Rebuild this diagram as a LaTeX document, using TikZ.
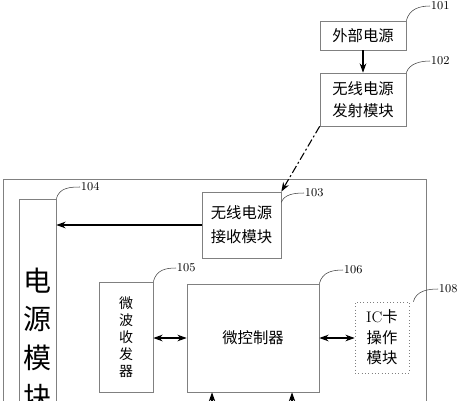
\documentclass[tikz,border=0pt]{standalone}
\usepackage{fontspec}
\newfontfamily\cjk{Noto Sans CJK SC}
\usetikzlibrary{arrows.meta,calc}
\tikzset{
	blk/.style={draw=black!50, line width=0.5pt, inner sep=0pt, align=center,
		font=\cjk\fontsize{11.5}{16.5}\selectfont},
	tag/.style={anchor=west, inner sep=0.5pt, font=\fontsize{9}{10}\selectfont},
	lead/.style={draw=black!75, line width=0.4pt},
	arr/.style={-{Stealth[length=7pt,width=5pt]}, line width=0.8pt},
	dbl/.style={{Stealth[length=7pt,width=5pt]}-{Stealth[length=7pt,width=5pt]}, line width=0.8pt},
}

\begin{document}
\begin{tikzpicture}[x=0.75pt, y=-0.75pt]
	%%%%% START %%%%%
	\useasboundingbox (0,0) rectangle (460,400);
	\clip (0,0) rectangle (460,400);
	
	% outer frame
	\draw[black!50, line width=0.5pt] (3,179) rectangle (426,560);
	
	% blocks
	\node[blk, minimum width=64.5pt, minimum height=21.75pt] (ext) at (363,35.5) {外部电源};
	\node[blk, minimum width=64.5pt, minimum height=39.75pt] (tx) at (363,99.5) {无线电源\\发射模块};
	\node[blk, minimum width=59.25pt, minimum height=49.5pt, font=\cjk\fontsize{11.5}{18}\selectfont] (rx) at (241.5,225) {无线电源\\接收模块};
	\node[blk, minimum width=27.75pt, minimum height=209.25pt, font=\cjk\fontsize{21}{29}\selectfont] (pwr) at (37.5,338.5) {电\\源\\模\\块};
	\node[blk, minimum width=40.5pt, minimum height=82.5pt, font=\cjk\fontsize{10.5}{12.75}\selectfont] (mw) at (126,337) {微\\波\\收\\发\\器};
	\node[blk, minimum width=99pt, minimum height=81pt] (ctrl) at (253,338) {微控制器};
	\node[blk, dotted, minimum width=40.5pt, minimum height=53.25pt, font=\cjk\fontsize{11.5}{15.4}\selectfont] (ic) at (382,337.5) {{\fontspec{Latin Modern Roman}IC}卡\\操作\\模块};
	
	% reference numerals
	\node[tag] (n101) at (430,6) {101};
	\node[tag] (n102) at (430,61) {102};
	\node[tag] (n103) at (304,193) {103};
	\node[tag] (n104) at (80,187) {104};
	\node[tag] (n105) at (176,268) {105};
	\node[tag] (n106) at (343,270) {106};
	\node[tag] (n108) at (438,289) {108};
	
	\draw[lead] (ext.north east) .. controls +(3,-12) and +(-10,0) .. (n101.west);
	\draw[lead] (tx.north east) .. controls +(3,-9) and +(-10,0) .. (n102.west);
	\draw[lead] ([yshift=-8pt]rx.north east) .. controls +(3,-8) and +(-10,0) .. (n103.west);
	\draw[lead] (pwr.north east) .. controls +(3,-11) and +(-10,0) .. (n104.west);
	\draw[lead] (mw.north east) .. controls +(3,-12) and +(-10,0) .. (n105.west);
	\draw[lead] (ctrl.north east) .. controls +(3,-12) and +(-10,0) .. (n106.west);
	\draw[lead] ([xshift=3pt]ic.north east) .. controls +(3,-11) and +(-10,0) .. (n108.west);
	
	% connections
	\draw[arr] (ext) -- (tx);
	\draw[arr, dash pattern=on 6pt off 2pt on 1.5pt off 2pt] (tx.south west) -- (rx.north east);
	\draw[arr] (rx.west) -- (pwr.east |- rx.west);
	\draw[dbl] (mw.east |- ctrl.west) -- (ctrl.west);
	\draw[dbl] (ctrl.east) -- (ic.west |- ctrl.east);
	
	\coordinate (in1) at (212,430);
	\coordinate (in2) at (292,430);
	\draw[arr] (in1) -- (in1 |- ctrl.south);
	\draw[arr] (in2) -- (in2 |- ctrl.south);
	
	%%%%% END %%%%%
\end{tikzpicture}
\end{document}
